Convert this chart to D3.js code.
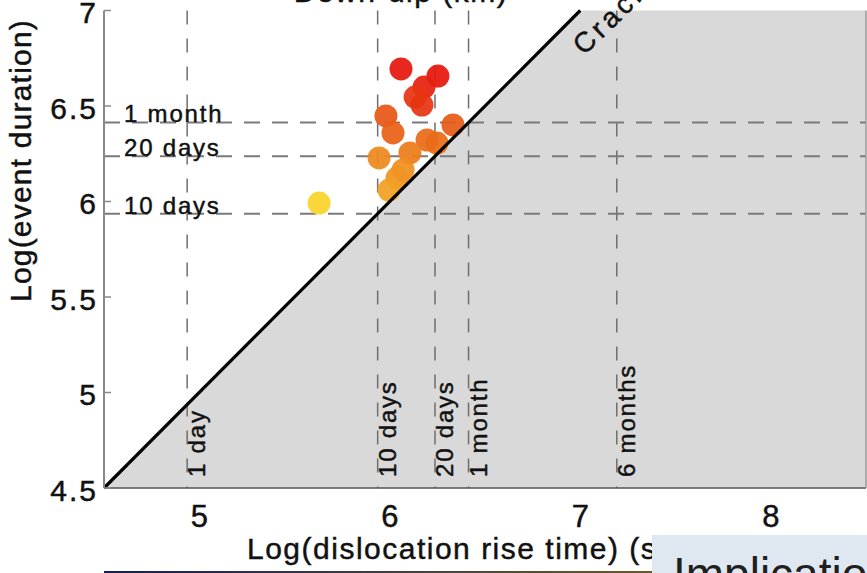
<!DOCTYPE html>
<html>
<head>
<meta charset="utf-8">
<script src="https://cdn.jsdelivr.net/npm/d3@7"></script>
<style>
  body { margin: 0; background: #fff; }
  text { font-family: 'Liberation Sans', Arial, sans-serif; stroke: #111; stroke-width: 0.45px; }
</style>
</head>
<body>
<svg id="chart" width="867" height="573"></svg>
<script>
// event points: log(rise time), log(duration), colour variable
var riseTime = [6.059, 6.253, 6.180, 6.133, 6.169, 5.980, 6.332, 6.017, 6.196, 6.248, 6.106, 5.944, 6.070, 6.038, 5.996, 5.629];
var duration = [6.694, 6.657, 6.599, 6.547, 6.505, 6.448, 6.401, 6.359, 6.322, 6.306, 6.254, 6.228, 6.165, 6.123, 6.060, 5.992];
var depth = [1.0, 1.0, 0.95, 0.85, 0.85, 0.68, 0.66, 0.62, 0.55, 0.55, 0.45, 0.36, 0.33, 0.3, 0.25, 0.0];

// reference periods (seconds) drawn as dashed lines
var vLabels = ['1 day', '10 days', '20 days', '1 month', '6 months'];
var vSeconds = [86400, 864000, 1728000, 2592000, 15552000];
var hLabels = ['1 month', '20 days', '10 days'];
var hSeconds = [2592000, 1728000, 864000];

var xTicks = [5, 6, 7, 8];
var yTicks = [4.5, 5, 5.5, 6, 6.5, 7];

var svg = d3.select('#chart');

var x = d3.scaleLinear().domain([4.5, 8.5]).range([104, 866]);
var y = d3.scaleLinear().domain([4.5, 7]).range([488, 10.5]);

var color = d3.scaleLinear()
  .domain([0, 0.33, 0.66, 1])
  .range(['#f9d42a', '#ef8f1f', '#e75b15', '#e6170e']);

// grey region below the duration = rise time line
svg.append('path')
  .attr('d', d3.line()([[x(4.5), y(4.5)], [x(7), y(7)], [x(8.5), y(7)], [x(8.5), y(4.5)]]) + 'Z')
  .attr('fill', '#d9d9d9');

// vertical dashed lines
svg.selectAll('.vline')
  .data(vSeconds)
  .enter()
  .append('line')
  .attr('class', 'vline')
  .attr('x1', (d) => x(Math.log10(d)))
  .attr('x2', (d) => x(Math.log10(d)))
  .attr('y1', y(7))
  .attr('y2', y(4.5))
  .attr('stroke', '#6f6f6f')
  .attr('stroke-width', 1.5)
  .attr('stroke-dasharray', '14,14');

// horizontal dashed lines
svg.selectAll('.hline')
  .data(hSeconds)
  .enter()
  .append('line')
  .attr('class', 'hline')
  .attr('x1', x(4.5))
  .attr('x2', x(8.5))
  .attr('y1', (d) => y(Math.log10(d)))
  .attr('y2', (d) => y(Math.log10(d)))
  .attr('stroke', '#7a7a7a')
  .attr('stroke-width', 2)
  .attr('stroke-dasharray', '16,12');

// labels on the dashed lines
svg.selectAll('.hlab')
  .data(hSeconds)
  .enter()
  .append('text')
  .attr('x', 124)
  .attr('y', (d) => y(Math.log10(d)))
  .attr('font-size', 24)
  .attr('letter-spacing', 1.8)
  .attr('fill', '#111')
  .text((d, i) => hLabels[i]);

svg.selectAll('.vlab')
  .data(vSeconds)
  .enter()
  .append('text')
  .attr('transform', (d) => 'translate(' + (x(Math.log10(d)) + 18) + ',477) rotate(-90)')
  .attr('font-size', 24)
  .attr('letter-spacing', 1.8)
  .attr('fill', '#111')
  .text((d, i) => vLabels[i]);

// events
svg.selectAll('circle')
  .data(riseTime)
  .enter()
  .append('circle')
  .attr('cx', (d) => x(d))
  .attr('cy', (d, i) => y(duration[i]))
  .attr('r', 11.5)
  .attr('fill', (d, i) => color(depth[i]))
  .attr('fill-opacity', 0.93);

// duration = rise time line
svg.append('line')
  .attr('x1', x(4.5))
  .attr('y1', y(4.5))
  .attr('x2', x(7))
  .attr('y2', y(7))
  .attr('stroke', '#000')
  .attr('stroke-width', 3.2);

svg.append('text')
  .attr('transform', 'translate(584,56) rotate(-44)')
  .attr('font-size', 28)
  .attr('letter-spacing', 4)
  .attr('fill', '#111')
  .text('Crack');

// axes frame
svg.append('line').attr('x1', 104).attr('x2', 104).attr('y1', y(7)).attr('y2', y(4.5))
  .attr('stroke', '#8a8a8a').attr('stroke-width', 2);
svg.append('line').attr('x1', 104).attr('x2', 866).attr('y1', y(4.5)).attr('y2', y(4.5))
  .attr('stroke', '#555').attr('stroke-width', 1.5);
svg.append('line').attr('x1', 866).attr('x2', 866).attr('y1', y(7)).attr('y2', y(4.5))
  .attr('stroke', '#999').attr('stroke-width', 1.5);

// y ticks and labels
svg.selectAll('.ytick')
  .data(yTicks)
  .enter()
  .append('line')
  .attr('x1', 104)
  .attr('x2', 111)
  .attr('y1', (d) => y(d))
  .attr('y2', (d) => y(d))
  .attr('stroke', '#8a8a8a')
  .attr('stroke-width', 1.5);

svg.selectAll('.ylab')
  .data(yTicks)
  .enter()
  .append('text')
  .attr('x', 98)
  .attr('y', (d) => y(d) + 12.7)
  .attr('text-anchor', 'end')
  .attr('font-size', 30)
  .attr('letter-spacing', 2)
  .attr('fill', '#111')
  .text((d) => d);

svg.selectAll('.xlab')
  .data(xTicks)
  .enter()
  .append('text')
  .attr('x', (d) => x(d))
  .attr('y', 527)
  .attr('text-anchor', 'middle')
  .attr('font-size', 31)
  .attr('fill', '#111')
  .text((d) => d);

// axis titles
svg.append('text')
  .attr('transform', 'translate(31,302) rotate(-90)')
  .attr('font-size', 30)
  .attr('letter-spacing', 1.2)
  .attr('fill', '#111')
  .text('Log(event duration)');

svg.append('text')
  .attr('x', 247)
  .attr('y', 559)
  .attr('font-size', 30)
  .attr('letter-spacing', 1.5)
  .attr('fill', '#111')
  .text('Log(dislocation rise time) (s)');

// colour bar title, mostly outside the crop
svg.append('text')
  .attr('x', 401)
  .attr('y', 2)
  .attr('text-anchor', 'middle')
  .attr('font-size', 30)
  .attr('letter-spacing', 1.5)
  .attr('fill', '#111')
  .text('Down-dip (km)');

// slide pieces around the picture
var grad = svg.append('defs').append('linearGradient').attr('id', 'rule');
grad.append('stop').attr('offset', '0%').attr('stop-color', '#14205a');
grad.append('stop').attr('offset', '100%').attr('stop-color', '#6b5a2a');
svg.append('rect').attr('x', 104).attr('y', 571).attr('width', 548).attr('height', 3)
  .attr('fill', 'url(#rule)');

svg.append('rect').attr('x', 652).attr('y', 535).attr('width', 215).attr('height', 40)
  .attr('fill', '#dfe7f1');
svg.append('text')
  .attr('x', 673)
  .attr('y', 590)
  .attr('font-family', 'Lato, sans-serif')
  .attr('font-size', 46)
  .attr('fill', '#1f1f1f')
  .style('stroke', 'none')
  .text('Implication');
</script>
</body>
</html>
